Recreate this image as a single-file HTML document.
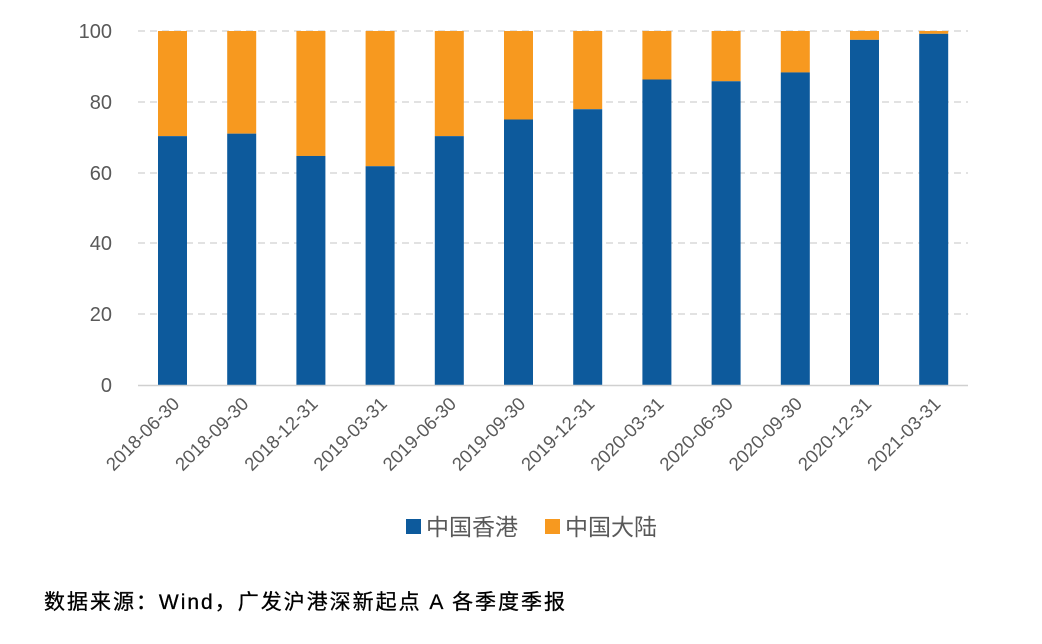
<!DOCTYPE html>
<html><head><meta charset="utf-8"><style>
body{margin:0;background:#fff;}
svg{display:block;font-family:"Liberation Sans","Noto Sans CJK SC",sans-serif;}
</style></head><body>
<svg width="1042" height="644" viewBox="0 0 1042 644">
<g stroke="#d0d0d0" stroke-width="1.3" stroke-dasharray="7,5">
<line x1="138" x2="968" y1="31" y2="31"/>
<line x1="138" x2="968" y1="102" y2="102"/>
<line x1="138" x2="968" y1="173" y2="173"/>
<line x1="138" x2="968" y1="243" y2="243"/>
<line x1="138" x2="968" y1="314" y2="314"/>
</g>
<g fill="#595959" font-size="20" text-anchor="end">
<text x="112" y="38">100</text><text x="112" y="109">80</text><text x="112" y="180">60</text>
<text x="112" y="250">40</text><text x="112" y="321">20</text><text x="112" y="392">0</text>
</g>
<g id="bars"></g>
<line x1="138" x2="968" y1="385.5" y2="385.5" stroke="#d0d0d0" stroke-width="1.5"/>
<g id="labels" fill="#595959" font-size="18.5" text-anchor="end"></g>
<rect x="406" y="519" width="15" height="15" fill="#0d5a9c"/>
<text x="426" y="535" font-size="23" fill="#595959">中国香港</text>
<rect x="545" y="519" width="15" height="15" fill="#f7991f"/>
<text x="565" y="535" font-size="23" fill="#595959">中国大陆</text>
<text x="44" y="609" font-size="21" fill="#000" stroke="#000" stroke-width="0.3" textLength="521" lengthAdjust="spacing">数据来源：Wind，广发沪港深新起点 A 各季度季报</text>
</svg>
<script>
var v=[70.3,71,64.7,61.8,70.3,75,77.9,86.3,85.8,88.3,97.5,99.2];
var d=["2018-06-30","2018-09-30","2018-12-31","2019-03-31","2019-06-30","2019-09-30","2019-12-31","2020-03-31","2020-06-30","2020-09-30","2020-12-31","2021-03-31"];
var ns="http://www.w3.org/2000/svg",b=document.getElementById("bars"),l=document.getElementById("labels");
for(var i=0;i<12;i++){var cx=172.5+i*69.2,x=cx-14.5,yb=385-v[i]*3.54;
var r=document.createElementNS(ns,"rect");r.setAttribute("x",x);r.setAttribute("width",29);r.setAttribute("y",31);r.setAttribute("height",yb-31);r.setAttribute("fill","#f7991f");b.appendChild(r);
r=document.createElementNS(ns,"rect");r.setAttribute("x",x);r.setAttribute("width",29);r.setAttribute("y",yb);r.setAttribute("height",385-yb);r.setAttribute("fill","#0d5a9c");b.appendChild(r);
var t=document.createElementNS(ns,"text");t.setAttribute("transform","translate("+(cx+8)+",405) rotate(-45)");t.textContent=d[i];l.appendChild(t);}
</script>
</body></html>
